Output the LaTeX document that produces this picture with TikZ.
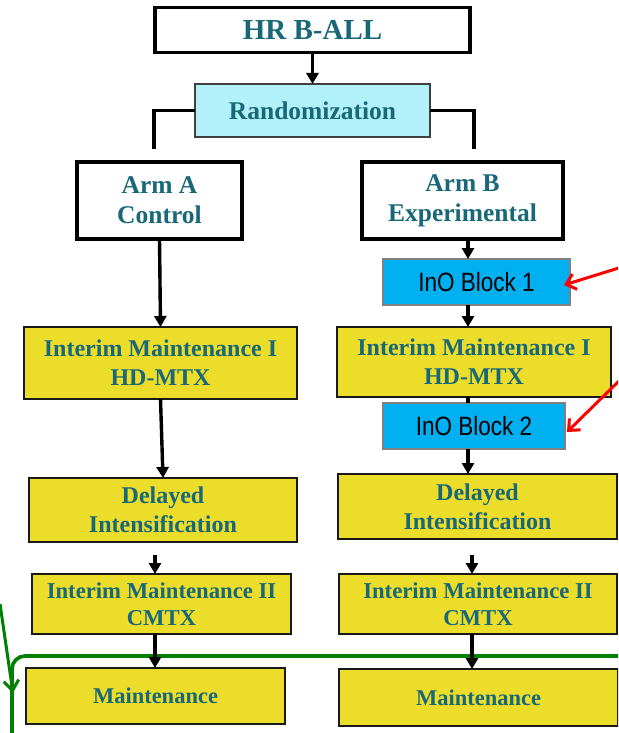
\documentclass[tikz,border=0pt]{standalone}
\usepackage{fontspec}
\setmainfont{Liberation Serif}
\newfontfamily\inofont[FakeStretch=0.85]{Liberation Sans}
\usetikzlibrary{arrows.meta}

\definecolor{tealtxt}{RGB}{24,104,120}
\definecolor{boxyellow}{RGB}{236,221,42}
\definecolor{randcyan}{RGB}{178,240,250}
\definecolor{inoblue}{RGB}{0,176,240}
\definecolor{inoedge}{RGB}{128,128,128}
\definecolor{grpgreen}{RGB}{0,128,0}

\begin{document}
\begin{tikzpicture}[x=1pt,y=-1pt,
  every node/.style={inner sep=0pt, outer sep=0pt, align=center, text=tealtxt},
  boxsize/.style 2 args={minimum width=#1, minimum height=#2},
  txt/.style 2 args={font=\bfseries\fontsize{#1pt}{#2pt}\selectfont},
  headbox/.style={draw=black, line width=3.6pt, fill=white},
  randbox/.style={draw=black!75, line width=1.5pt, fill=randcyan},
  phasebox/.style={draw=black!90, line width=2.2pt, fill=boxyellow},
  inobox/.style={draw=inoedge, line width=2.2pt, fill=inoblue, text=black,
                 font=\inofont\fontsize{26.5pt}{30pt}\selectfont},
  flow/.style={line width=3.4pt, -{Triangle[width=12pt,length=11pt]}},
  link/.style={line width=3.4pt},
  callout/.style={draw=red, line width=3pt, -{Straight Barb[width=16pt,length=9pt]}},
  grpline/.style={draw=grpgreen, line width=3.6pt}
]
\useasboundingbox (0,0) rectangle (618,733);
\clip (0,0) rectangle (618,733);

% columns used by the vertical connectors
\coordinate (colA) at (155,0);
\coordinate (colB) at (468,0);
\coordinate (colB2) at (472,0);

% group frame around the maintenance phase
\draw[grpline, rounded corners=13pt] (12,656) rectangle (650,770);

% top of the tree
\node[headbox, boxsize={315pt}{45pt}, txt={29}{34}] (hr) at (312.5,30) {HR B-ALL};
\node[randbox, boxsize={235pt}{53pt}, txt={25.5}{30}] (rand) at (312.5,110.5) {Randomization};

% arms
\node[headbox, boxsize={165pt}{77pt}, txt={25.5}{30}] (armA) at (159.5,200.5) {Arm A\\Control};
\node[headbox, boxsize={201pt}{77pt}, txt={25.5}{30}] (armB) at (462.5,200.5) {Arm B\\Experimental};

% arm A phases
\node[phasebox, boxsize={273pt}{72pt}, txt={24}{29}] (imA1) at (160.5,363) {Interim Maintenance I\\HD-MTX};
\node[phasebox, boxsize={268pt}{64pt}, txt={24}{29}] (delA) at (163,510) {Delayed\\Intensification};
\node[phasebox, boxsize={259pt}{60pt}, txt={22.7}{27}] (imA2) at (161.5,604) {Interim Maintenance II\\CMTX};
\node[phasebox, boxsize={259pt}{56pt}, txt={22.5}{27}] (mA) at (155.5,696) {Maintenance};

% arm B phases
\node[inobox, boxsize={187pt}{46pt}] (ino1) at (476.5,282) {InO Block 1};
\node[phasebox, boxsize={274pt}{70pt}, txt={24}{29}] (imB1) at (474,362) {Interim Maintenance I\\HD-MTX};
\node[inobox, boxsize={182pt}{46pt}] (ino2) at (474,426) {InO Block 2};
\node[phasebox, boxsize={279pt}{65pt}, txt={24}{29}] (delB) at (477.5,506.5) {Delayed\\Intensification};
\node[phasebox, boxsize={278pt}{60pt}, txt={22.7}{27}] (imB2) at (478,604) {Interim Maintenance II\\CMTX};
\node[phasebox, boxsize={279pt}{57pt}, txt={22.5}{27}] (mB) at (478.5,697.5) {Maintenance};

% connectors from the top
\draw[flow] (hr.south) -- (rand.north);
\coordinate (legA) at (154,149);
\coordinate (legB) at (474,149);
\draw[link] (rand.west) -| (legA);
\draw[link] (rand.east) -| (legB);

% arm A flow
\draw[flow] (armA.south) -- (imA1.north);
\draw[flow] (imA1.south) -- (delA.north);
\coordinate (stubA) at (155,555);
\draw[flow] (stubA) -- (imA2.north -| colA);
\draw[flow] (imA2.south -| colA) -- (mA.north -| colA);

% arm B flow
\draw[flow] (armB.south -| colB) -- (ino1.north -| colB);
\draw[flow] (ino1.south -| colB) -- (imB1.north -| colB);
\draw[link] (imB1.south -| colB) -- (ino2.north -| colB);
\draw[flow] (ino2.south -| colB) -- (delB.north -| colB);
\coordinate (stubB) at (472,555);
\draw[flow] (stubB) -- (imB2.north -| colB2);
\draw[flow] (imB2.south -| colB2) -- (mB.north -| colB2);

% callouts pointing at the InO blocks
\coordinate (red1) at (622,267);
\coordinate (red2) at (622,378);
\draw[callout] (red1) -- ([xshift=-6pt,yshift=-3pt]ino1.east);
\draw[callout] (red2) -- ([xshift=2pt,yshift=-6pt]ino2.east);

% green pointer to the maintenance frame
\coordinate (gstart) at (0,604);
\coordinate (gtip) at (13,693);
\draw[grpline, line width=3pt, -{Straight Barb[width=15pt,length=10pt]}] (gstart) -- (gtip);
\end{tikzpicture}
\end{document}
